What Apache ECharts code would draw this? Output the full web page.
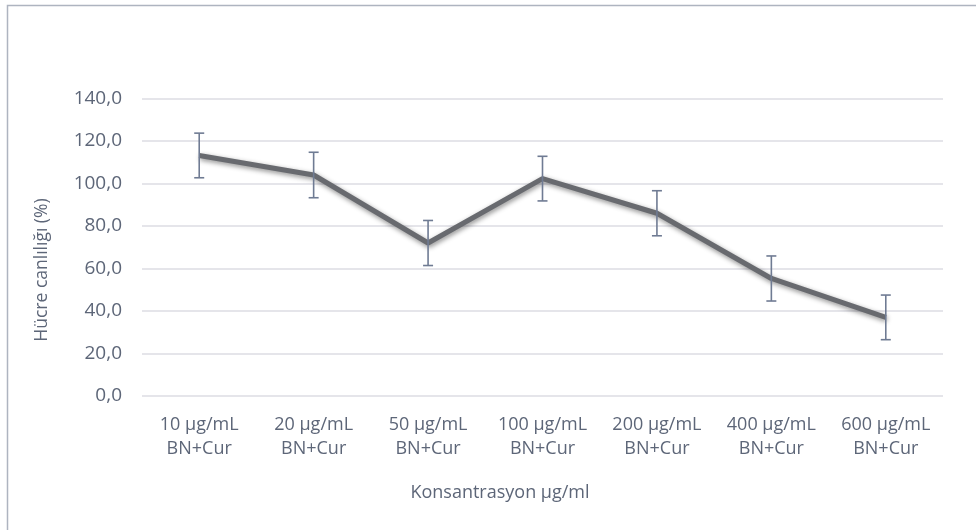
<!DOCTYPE html>
<html>
<head>
<meta charset="utf-8">
<script src="https://cdn.jsdelivr.net/npm/echarts@6/dist/echarts.min.js"></script>
<style>
  html, body { margin: 0; padding: 0; background: #fff; }
  #chart { width: 976px; height: 530px; }
</style>
</head>
<body>
<div id="chart"></div>
<script>
// Concentrations tested (x axis)
const categories = [
  '10 µg/mL\nBN+Cur', '20 µg/mL\nBN+Cur', '50 µg/mL\nBN+Cur', '100 µg/mL\nBN+Cur',
  '200 µg/mL\nBN+Cur', '400 µg/mL\nBN+Cur', '600 µg/mL\nBN+Cur'
];
// Mean cell viability (%)
const viability = [113.2, 104.0, 72.0, 102.3, 86.0, 55.3, 37.0];
// Standard deviation shown as error bars (±)
const errors = [10.5, 10.7, 10.6, 10.5, 10.6, 10.6, 10.5];
// Y axis settings
const yMin = 0, yMax = 140, yStep = 20;
const xTitle = 'Konsantrasyon µg/ml';
const yTitle = 'Hücre canlılığı (%)';

const textColor = '#5d6678';
const fontFamily = '"Open Sans", "Noto Sans", sans-serif';

const errorData = viability.map((v, i) => [i, v - errors[i], v + errors[i]]);

const chart = echarts.init(document.getElementById('chart'), null, { renderer: 'canvas' });
chart.setOption({
  backgroundColor: '#ffffff',
  animation: false,
  graphic: [
    {
      type: 'rect',
      shape: { x: 7.5, y: 5.5, width: 1100, height: 700 },
      style: { fill: 'none', stroke: '#aeb4c0', lineWidth: 1.5 },
      silent: true,
      z: -1
    },
    {
      type: 'text',
      x: 500, y: 493,
      style: {
        text: xTitle, fill: textColor, fontSize: 18, fontFamily: fontFamily,
        align: 'center', verticalAlign: 'middle'
      }
    },
    {
      type: 'text',
      x: 42, y: 270,
      rotation: Math.PI / 2,
      style: {
        text: yTitle, fill: textColor, fontSize: 17.5, fontFamily: fontFamily,
        align: 'center', verticalAlign: 'middle'
      }
    }
  ],
  grid: { left: 142, right: 33, top: 98.5, bottom: 134 },
  xAxis: {
    type: 'category',
    data: categories,
    boundaryGap: true,
    axisLine: { show: false },
    axisTick: { show: false },
    axisLabel: {
      color: textColor, fontSize: 18, fontFamily: fontFamily,
      lineHeight: 24, margin: 17, interval: 0
    }
  },
  yAxis: {
    type: 'value',
    min: yMin, max: yMax, interval: yStep,
    axisLine: { show: false },
    axisTick: { show: false },
    splitLine: { lineStyle: { color: '#dcdde3', width: 1.5 } },
    axisLabel: {
      color: textColor, fontSize: 19, fontFamily: fontFamily, margin: 20,
      formatter: v => v.toFixed(1).replace('.', ',')
    }
  },
  series: [
    {
      type: 'line',
      data: viability,
      symbol: 'none',
      z: 2,
      lineStyle: {
        color: '#686a6f', width: 5,
        shadowColor: 'rgba(0,0,0,0.45)', shadowBlur: 5,
        shadowOffsetX: 1, shadowOffsetY: 2
      }
    },
    {
      type: 'custom',
      z: 3,
      data: errorData,
      renderItem: function (params, api) {
        const x = api.value(0);
        const lo = api.coord([x, api.value(1)]);
        const hi = api.coord([x, api.value(2)]);
        const half = 5;
        const style = { stroke: '#6f7b93', lineWidth: 1.6, fill: 'none' };
        return {
          type: 'group',
          children: [
            { type: 'line', shape: { x1: hi[0], y1: hi[1], x2: lo[0], y2: lo[1] }, style: style },
            { type: 'line', shape: { x1: hi[0] - half, y1: hi[1], x2: hi[0] + half, y2: hi[1] }, style: style },
            { type: 'line', shape: { x1: lo[0] - half, y1: lo[1], x2: lo[0] + half, y2: lo[1] }, style: style }
          ]
        };
      }
    }
  ]
});
</script>
</body>
</html>
